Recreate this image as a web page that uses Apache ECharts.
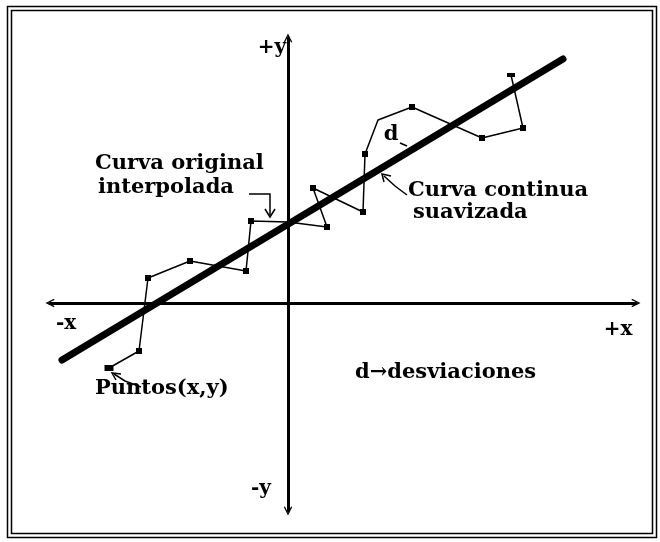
<!DOCTYPE html>
<html>
<head>
<meta charset="utf-8">
<script src="https://cdn.jsdelivr.net/npm/echarts@6/dist/echarts.min.js"></script>
<style>
  html, body { margin: 0; padding: 0; background: #fff; }
  #chart { width: 660px; height: 542px; }
</style>
</head>
<body>
<div id="chart"></div>
<script>
// Observed points (x, y), joined in order by the interpolated curve
const pointX = [-17.9, -14.9, -14.0, -9.8, -4.2, -3.7, 0.0, 3.9, 2.5, 7.5, 7.7, 9.0, 12.4, 19.4, 23.5, 22.3];
const pointY = [-6.5, -4.8, 2.5, 4.2, 3.2, 8.2, 8.1, 7.6, 11.5, 9.1, 14.9, 18.3, 19.6, 16.5, 17.5, 22.8];
// Vertices of the curve drawn without a square marker
const plainVertices = [6, 11];

// Smoothed continuous curve (straight fit), given by its end points
const fitX = [-22.6, 27.5];
const fitY = [-5.7, 24.4];

// Extent of the two axes
const xRange = [-23.8, 34.8];
const yRange = [-20.8, 26.5];

// Texts
const axisTexts = { xPos: '+x', xNeg: '-x', yPos: '+y', yNeg: '-y' };
const noteOriginal = ['Curva original', 'interpolada'];
const noteSmooth = ['Curva continua', 'suavizada'];
const notePoints = 'Puntos(x,y)';
const noteDev = 'd\u2192desviaciones';
const devMark = 'd';

const FONT = '"DejaVu Serif", "Liberation Serif", serif';
const INK = '#000';

const chart = echarts.init(document.getElementById('chart'), null, { renderer: 'canvas' });

// open chevron arrow head, pointing up in symbol space
const chevron = 'path://M0,10 L5,0 L10,10 L8.6,10.6 L5,3.2 L1.4,10.6 Z';

const axisCommon = {
  type: 'value',
  axisLine: {
    show: true,
    onZero: true,
    symbol: [chevron, chevron],
    symbolSize: [10, 9],
    lineStyle: { color: INK, width: 3 }
  },
  axisTick: { show: false },
  axisLabel: { show: false },
  splitLine: { show: false }
};

const curveData = pointX.map((x, i) => {
  const item = { value: [x, pointY[i]] };
  if (plainVertices.includes(i)) item.symbol = 'none';
  if (i === 0) item.symbolSize = [9, 6];
  if (i === pointX.length - 1) item.symbolSize = [8, 4];
  return item;
});

const fitData = fitX.map((x, i) => [x, fitY[i]]);

function label(text, x, y, size, align) {
  return {
    type: 'text',
    x: x, y: y,
    style: {
      text: text,
      font: 'bold ' + (size || 21) + 'px ' + FONT,
      fill: INK,
      align: align || 'left',
      verticalAlign: 'middle'
    },
    z: 10
  };
}

function stroke(points, w) {
  return {
    type: 'polyline',
    shape: { points: points },
    style: { stroke: INK, lineWidth: w || 1.5, fill: null },
    z: 10
  };
}

chart.setOption({
  animation: false,
  backgroundColor: '#fff',
  grid: { left: 50, right: 24, top: 38, bottom: 31, containLabel: false },
  xAxis: Object.assign({}, axisCommon, { min: xRange[0], max: xRange[1] }),
  yAxis: Object.assign({}, axisCommon, { min: yRange[0], max: yRange[1] }),
  series: [
    {
      name: 'Curva original interpolada',
      type: 'line',
      data: curveData,
      symbol: 'rect',
      symbolSize: 6,
      showAllSymbol: true,
      itemStyle: { color: INK },
      lineStyle: { color: INK, width: 1.5 },
      z: 3
    },
    {
      name: 'Curva continua suavizada',
      type: 'line',
      data: fitData,
      symbol: 'none',
      lineStyle: { color: INK, width: 7, cap: 'round' },
      z: 4
    }
  ],
  graphic: [
    // double frame
    { type: 'rect', shape: { x: 7.5, y: 6.5, width: 649, height: 531 }, style: { stroke: INK, lineWidth: 1.5, fill: null } },
    { type: 'rect', shape: { x: 11.5, y: 10.5, width: 641, height: 523 }, style: { stroke: INK, lineWidth: 1.5, fill: null } },

    label(axisTexts.yPos, 272, 48, 20, 'center'),
    label(axisTexts.yNeg, 261, 489, 20, 'center'),
    label(axisTexts.xNeg, 66, 324, 20, 'center'),
    label(axisTexts.xPos, 618, 330, 20, 'center'),

    label(noteOriginal[0], 95, 164),
    label(noteOriginal[1], 98, 188),
    stroke([[249, 194], [270, 194], [270, 215]]),
    stroke([[265, 209], [270, 217], [275, 209]]),

    label(noteSmooth[0], 408, 191),
    label(noteSmooth[1], 413, 213),
    stroke([[407, 195], [395, 186], [384, 176]]),
    stroke([[391, 176], [382, 174], [384, 182]]),

    label(devMark, 391, 135, 21, 'center'),
    stroke([[400, 143], [407, 146]]),

    label(notePoints, 95, 389),
    stroke([[141, 387], [125, 381], [114, 374]]),
    stroke([[121, 374], [112, 373], [116, 380]]),

    label(noteDev, 355, 373)
  ]
});
</script>
</body>
</html>
